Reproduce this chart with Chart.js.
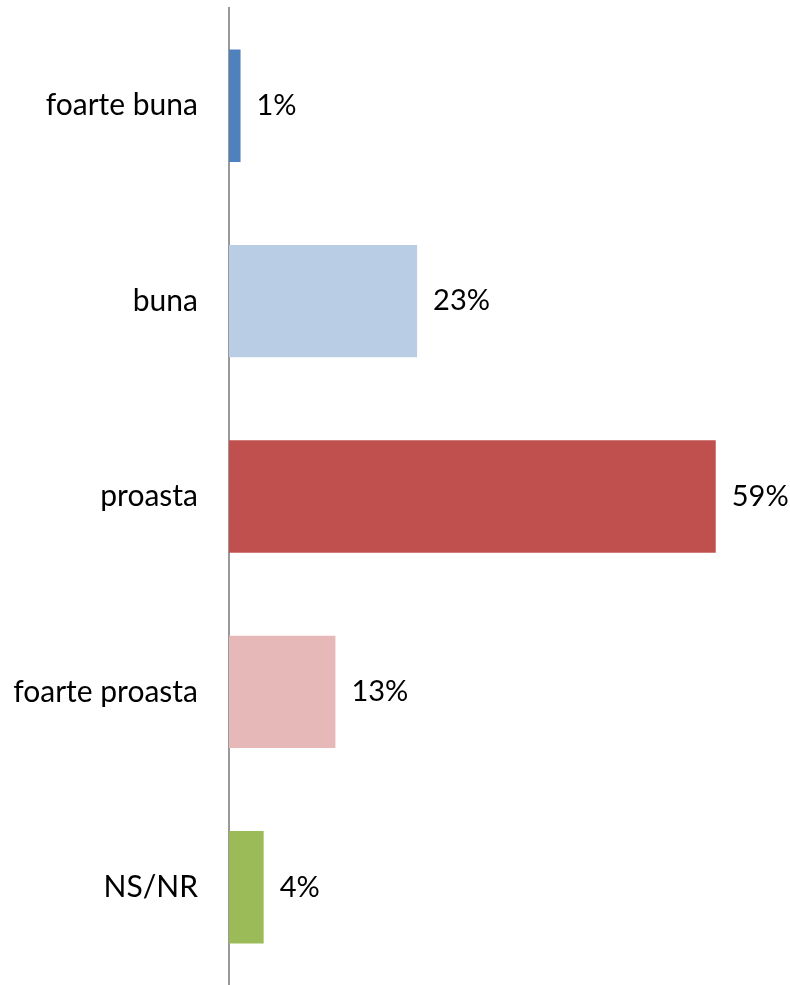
<!DOCTYPE html>
<html>
<head>
<meta charset="utf-8">
<script src="https://cdn.jsdelivr.net/npm/chart.js@4"></script>
<style>
  body { margin: 0; background: #fff; }
  #wrap { width: 790px; height: 985px; position: relative; }
</style>
</head>
<body>
<div id="wrap"><canvas id="grafic"></canvas></div>
<script>
// Datele graficului
const categorii = ["foarte buna", "buna", "proasta", "foarte proasta", "NS/NR"];
const valori = [1.4, 22.8, 59, 12.9, 4.2];
const etichete = ["1%", "23%", "59%", "13%", "4%"];
const culori = ["#4F81BD", "#B9CDE5", "#C0504D", "#E6B9B8", "#9BBB59"];

const FONT = "Lato, 'Liberation Sans', Arial, sans-serif";

// Etichete la capatul barelor
const eticheteBare = {
  id: "eticheteBare",
  afterDatasetsDraw(chart) {
    const { ctx } = chart;
    const meta = chart.getDatasetMeta(0);
    ctx.save();
    ctx.font = "29px " + FONT;
    ctx.fillStyle = "#000";
    ctx.textBaseline = "middle";
    ctx.textAlign = "left";
    meta.data.forEach((bar, i) => {
      ctx.fillText(etichete[i], bar.x + 16, bar.y);
    });
    ctx.restore();
  },
};

new Chart(document.getElementById("grafic"), {
  type: "bar",
  data: {
    labels: categorii,
    datasets: [
      {
        data: valori,
        backgroundColor: culori,
        borderWidth: 0,
        categoryPercentage: 1,
        barPercentage: 0.575,
      },
    ],
  },
  options: {
    indexAxis: "y",
    responsive: true,
    maintainAspectRatio: false,
    animation: false,
    layout: { padding: { top: 8, bottom: 0, right: 0 } },
    plugins: { legend: { display: false }, tooltip: { enabled: false } },
    scales: {
      x: { display: false, min: 0, max: 68 },
      y: {
        grid: { display: false },
        border: { display: true, color: "#999999", width: 2 },
        ticks: { color: "#000", font: { size: 30, family: FONT }, padding: 23 },
        afterFit: (s) => {
          s.width = 229;
          s.paddingTop = 0;
          s.paddingBottom = 0;
        },
      },
    },
  },
  plugins: [eticheteBare],
});
</script>
</body>
</html>
